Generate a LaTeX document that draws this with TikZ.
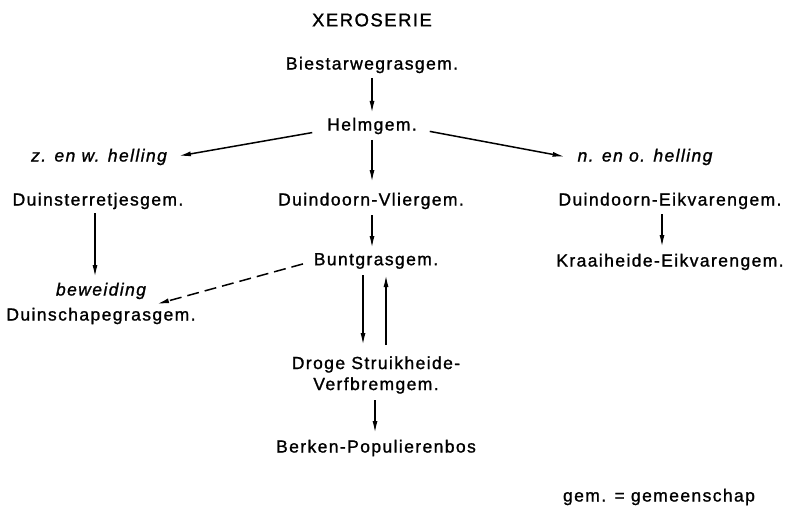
\documentclass[tikz,border=0pt]{standalone}
\usepackage{fontspec}
\setmainfont[LetterSpace=8,FakeBold=1.2]{Liberation Sans}
\usetikzlibrary{arrows.meta}
\begin{document}
\begin{tikzpicture}[x=1pt,y=-1pt,
  every node/.style={font=\fontsize{17.5}{20}\selectfont, inner sep=0pt},
  itl/.style={font=\fontsize{17.5}{20}\selectfont\itshape},
  arr/.style={line width=1.5pt, -{Latex[length=12pt,width=5pt]}},
  darr/.style={arr, dash pattern=on 12pt off 6pt}]
\useasboundingbox (0,0) rectangle (795,516);
\node (title) at (372,20) {\fontsize{18.5}{20}\selectfont XEROSERIE};
\node (bies) at (372,65) {Biestarwegrasgem.};
\node (helm) at (372,126) {Helmgem.};
\node[itl] (zw) at (99,157) {z. en w. helling};
\node[itl] (no) at (645,157) {n. en o. helling};
\node (dster) at (98,201) {Duinsterretjesgem.};
\node (dvlier) at (371,201) {Duindoorn-Vliergem.};
\node (deik) at (670,201) {Duindoorn-Eikvarengem.};
\node[itl] (bew) at (101,291) {beweiding};
\node (dschaap) at (101,316) {Duinschapegrasgem.};
\node (bunt) at (376,261) {Buntgrasgem.};
\node (kraai) at (670,262) {Kraaiheide-Eikvarengem.};
\node[align=center] (droge) at (376,375) {Droge Struikheide-\\[1pt]Verfbremgem.};
\node (berk) at (376,448) {Berken-Populierenbos};
\node (leg) at (659,497) {gem. = gemeenschap};
\coordinate (dtip) at (157,304);

\draw[arr, shorten <=13pt, shorten >=13pt] (bies.center) -- (helm.center);
\draw[arr, shorten <=15pt, shorten >=12pt] ([yshift=-4pt]helm.west) -- ([yshift=-1pt]zw.east);
\draw[arr, shorten <=13pt, shorten >=13pt] ([yshift=-3pt]helm.east) -- ([yshift=-2pt]no.west);
\draw[arr, shorten <=14pt, shorten >=19pt] (helm.center) -- ([xshift=1pt]dvlier.center);
\draw[arr, shorten <=12pt, shorten >=14pt] ([xshift=-3pt]dster.center) -- ([xshift=-6pt]bew.center);
\draw[darr, shorten <=11pt] (bunt.west) -- (dtip);
\draw[arr, shorten <=14pt, shorten >=13pt] ([xshift=1pt]dvlier.center) -- ([xshift=-4pt]bunt.center);
\draw[arr, shorten <=14pt, shorten >=30pt] ([xshift=-13pt]bunt.center) -- ([xshift=-13pt]droge.center);
\draw[arr, shorten <=30pt, shorten >=14pt] ([xshift=10pt]droge.center) -- ([xshift=10pt]bunt.center);
\draw[arr, shorten <=25pt, shorten >=15pt] ([xshift=-1pt]droge.center) -- ([xshift=-1pt]berk.center);
\draw[arr, shorten <=13pt, shorten >=15pt] ([xshift=-8pt]deik.center) -- ([xshift=-8pt]kraai.center);
\end{tikzpicture}
\end{document}
